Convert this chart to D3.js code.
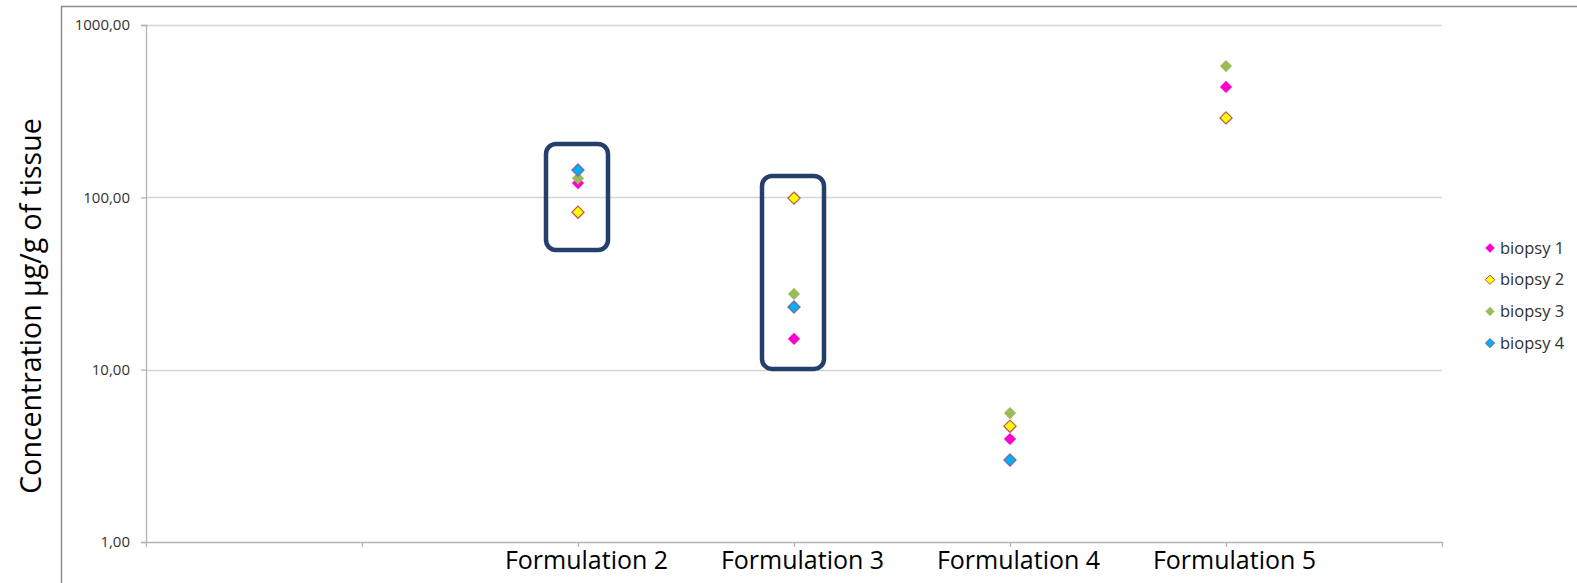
<!DOCTYPE html>
<html>
<head>
<meta charset="utf-8">
<script src="https://cdn.jsdelivr.net/npm/d3@7"></script>
<style>
  body { margin: 0; background: #fff; }
  text { font-family: "Open Sans", "Noto Sans", sans-serif; }
</style>
</head>
<body>
<div id="chart"></div>
<script>
// category slots along the x axis (first two and last are empty)
var categories = ["", "", "Formulation 2", "Formulation 3", "Formulation 4", "Formulation 5", ""]
var series = ["biopsy 1", "biopsy 2", "biopsy 3", "biopsy 4"]
var biopsy1 = [null, null, 121, 15.1, 3.96, 437, null]
var biopsy2 = [null, null, 82, 99, 4.7, 289, null]
var biopsy3 = [null, null, 129, 27.5, 5.6, 578, null]
var biopsy4 = [null, null, 144, 23.1, 2.99, null, null]
var yTicks = [1, 10, 100, 1000]
// highlighted groups: category index, low value, high value
var boxCats = [2, 3]
var boxLow = [49.5, 10.1]
var boxHigh = [204, 133]

var fills = ["#ff00cc", "#ffff00", "#9bbb59", "#00b0f0"]
var strokes = ["none", "#c0504d", "none", "#8064a2"]

const W = 1577, H = 583
const margin = {top: 25, right: 135, bottom: 41, left: 146},
    width = W - margin.left - margin.right,
    height = H - margin.top - margin.bottom

var svg = d3.select("#chart")
  .append("svg")
  .attr("width", W)
  .attr("height", H)

// outer chart frame
svg.append("rect")
  .attr("x", 61.5).attr("y", 6.5)
  .attr("width", 1600).attr("height", 700)
  .attr("fill", "none")
  .attr("stroke", "#8c8c8c")
  .attr("stroke-width", 1.5)

var g = svg.append("g")
  .attr("transform", "translate(" + margin.left + "," + margin.top + ")")

var x = d3.scalePoint()
  .domain(d3.range(categories.length))
  .range([0, width])

var y = d3.scaleLog()
  .domain([1, 1000])
  .range([height, 0])

// gridlines
g.append("g")
  .selectAll("line")
  .data(yTicks.slice(1))
  .enter()
  .append("line")
  .attr("x1", 0).attr("x2", width)
  .attr("y1", d => Math.round(y(d)) + 0.5)
  .attr("y2", d => Math.round(y(d)) + 0.5)
  .attr("stroke", "#d4d4d4")
  .attr("stroke-width", 1.3)

// y axis
var yAxis = g.append("g")
  .call(d3.axisLeft(y).tickValues(yTicks).tickSize(5).tickPadding(11)
    .tickFormat(d => d3.format(".2f")(d).replace(".", ",")))
yAxis.selectAll("text")
  .style("font-size", "15px")
  .attr("fill", "#333")
yAxis.selectAll("line, path").attr("stroke", "#b4b4b4").attr("stroke-width", 1.3)

// x axis
var xAxis = g.append("g")
  .attr("transform", "translate(0," + height + ")")
  .call(d3.axisBottom(x).tickSize(5).tickSizeOuter(0).tickPadding(4)
    .tickFormat(i => categories[i]))
xAxis.selectAll("text")
  .style("font-size", "25px")
  .attr("dx", 8)
  .attr("fill", "#000")
xAxis.selectAll("line, path").attr("stroke", "#b4b4b4").attr("stroke-width", 1.3)

// y axis title
svg.append("text")
  .attr("transform", "translate(41,306) rotate(-90)")
  .attr("text-anchor", "middle")
  .style("font-size", "28.5px")
  .attr("fill", "#000")
  .text("Concentration µg/g of tissue")

// highlight boxes
g.append("g")
  .selectAll("rect")
  .data(boxCats)
  .enter()
  .append("rect")
  .attr("x", d => x(d) - 32)
  .attr("width", 62)
  .attr("y", (d, i) => y(boxHigh[i]))
  .attr("height", (d, i) => y(boxLow[i]) - y(boxHigh[i]))
  .attr("rx", 10)
  .attr("fill", "none")
  .attr("stroke", "#243f6b")
  .attr("stroke-width", 4.5)

// points
var allSeries = [biopsy1, biopsy2, biopsy3, biopsy4]
var diamond = d3.symbol().type(d3.symbolDiamond2).size(95)

allSeries.forEach(function(vals, s) {
  g.append("g")
    .selectAll("path")
    .data(vals.map((v, i) => ({i: i, v: v})).filter(d => d.v != null))
    .enter()
    .append("path")
    .attr("d", diamond)
    .attr("transform", d => "translate(" + x(d.i) + "," + y(d.v) + ")")
    .attr("fill", fills[s])
    .attr("stroke", strokes[s])
    .attr("stroke-width", 1.2)
})

// legend
var legend = svg.append("g")
  .selectAll("g")
  .data(series)
  .enter()
  .append("g")
  .attr("transform", (d, i) => "translate(1490," + (248 + i * 31.7) + ")")

legend.append("path")
  .attr("d", d3.symbol().type(d3.symbolDiamond2).size(55))
  .attr("fill", (d, i) => fills[i])
  .attr("stroke", (d, i) => strokes[i])
  .attr("stroke-width", 1)

legend.append("text")
  .attr("x", 10)
  .attr("dy", "0.35em")
  .style("font-size", "16.5px")
  .attr("fill", "#303030")
  .text(d => d)
</script>
</body>
</html>
